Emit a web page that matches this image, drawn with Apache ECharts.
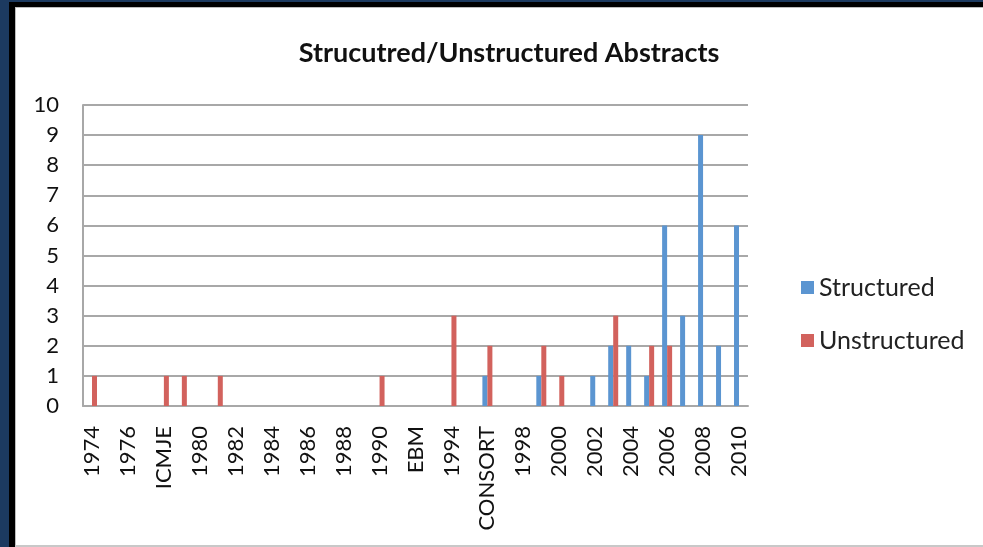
<!DOCTYPE html>
<html>
<head>
<meta charset="utf-8">
<title>Structured/Unstructured Abstracts</title>
<script src="https://cdn.jsdelivr.net/npm/echarts@6/dist/echarts.min.js"></script>
<style>
  html, body { margin: 0; padding: 0; background: #ffffff; }
  #chart { width: 983px; height: 547px; }
</style>
</head>
<body>
<div id="chart"></div>
<script>
// Publication years on the category axis
const years = [];
for (let y = 1974; y <= 2010; y++) years.push(y);

// Milestone years shown by name instead of the year
const milestoneYears = [1978, 1992, 1996];
const milestoneNames = ['ICMJE', 'EBM', 'CONSORT'];

// Number of abstracts per year
const structured = [
  0, 0, 0, 0, 0, 0, 0, 0, 0, 0,   // 1974-1983
  0, 0, 0, 0, 0, 0, 0, 0, 0, 0,   // 1984-1993
  0, 0, 1, 0, 0, 1, 0, 0, 1, 2,   // 1994-2003
  2, 1, 6, 3, 9, 2, 6             // 2004-2010
];
const unstructured = [
  1, 0, 0, 0, 1, 1, 0, 1, 0, 0,   // 1974-1983
  0, 0, 0, 0, 0, 0, 1, 0, 0, 0,   // 1984-1993
  3, 0, 2, 0, 0, 2, 1, 0, 0, 3,   // 1994-2003
  0, 2, 2, 0, 0, 0, 0             // 2004-2010
];

const yTicks = { min: 0, max: 10, interval: 1 };

const categories = years.map(String);
function tickLabel(value) {
  const i = milestoneYears.indexOf(Number(value));
  return i >= 0 ? milestoneNames[i] : value;
}

const font = 'Lato';
const gridColor = '#a8a8a8';
const chart = echarts.init(document.getElementById('chart'), null, { renderer: 'canvas' });

chart.setOption({
  animation: false,
  backgroundColor: '#ffffff',
  title: {
    text: 'Strucutred/Unstructured Abstracts',
    left: 504,
    top: 35,
    textAlign: 'center',
    textStyle: { fontFamily: font, fontWeight: 'bold', fontSize: 27, color: '#111111' }
  },
  legend: {
    orient: 'vertical',
    left: 796,
    top: 270,
    itemWidth: 13,
    itemHeight: 13,
    itemGap: 28,
    icon: 'rect',
    textStyle: { fontFamily: font, fontSize: 25, color: '#222222', padding: [0, 0, 0, 0] },
    data: ['Structured', 'Unstructured']
  },
  grid: { left: 83, right: 235, top: 105, bottom: 141, containLabel: false },
  xAxis: {
    type: 'category',
    data: categories,
    axisLine: { lineStyle: { color: gridColor, width: 2 } },
    axisTick: { show: false },
    axisLabel: {
      interval: 1,
      rotate: 90,
      margin: 20,
      fontFamily: font,
      fontSize: 22,
      color: '#111111',
      formatter: tickLabel
    }
  },
  yAxis: {
    type: 'value',
    min: yTicks.min,
    max: yTicks.max,
    interval: yTicks.interval,
    axisLine: { show: true, lineStyle: { color: gridColor, width: 2 } },
    axisTick: { show: false },
    splitLine: { lineStyle: { color: gridColor, width: 2 } },
    axisLabel: { margin: 24, fontFamily: font, fontSize: 22, color: '#111111' }
  },
  series: [
    {
      name: 'Structured',
      type: 'bar',
      data: structured,
      barWidth: 5,
      barGap: '0%',
      itemStyle: { color: '#5b95d1' }
    },
    {
      name: 'Unstructured',
      type: 'bar',
      data: unstructured,
      barWidth: 5,
      barGap: '0%',
      itemStyle: { color: '#d2625d' }
    }
  ],
  graphic: [
    // dark frame along the top and left edges
    { type: 'rect', shape: { x: 0, y: 0, width: 983, height: 2 }, style: { fill: '#1c3a60' }, z: 100 },
    { type: 'rect', shape: { x: 0, y: 0, width: 9, height: 547 }, style: { fill: '#1c3a60' }, z: 100 },
    { type: 'rect', shape: { x: 9, y: 2, width: 974, height: 5 }, style: { fill: '#000000' }, z: 100 },
    { type: 'rect', shape: { x: 9, y: 2, width: 6, height: 545 }, style: { fill: '#000000' }, z: 100 },
    { type: 'rect', shape: { x: 15, y: 7, width: 968, height: 1 }, style: { fill: '#bdbdbd' }, z: 100 },
    { type: 'rect', shape: { x: 15, y: 7, width: 1, height: 540 }, style: { fill: '#bdbdbd' }, z: 100 },
    { type: 'rect', shape: { x: 15, y: 545, width: 968, height: 2 }, style: { fill: '#c8c8c8' }, z: 100 }
  ]
});
</script>
</body>
</html>
